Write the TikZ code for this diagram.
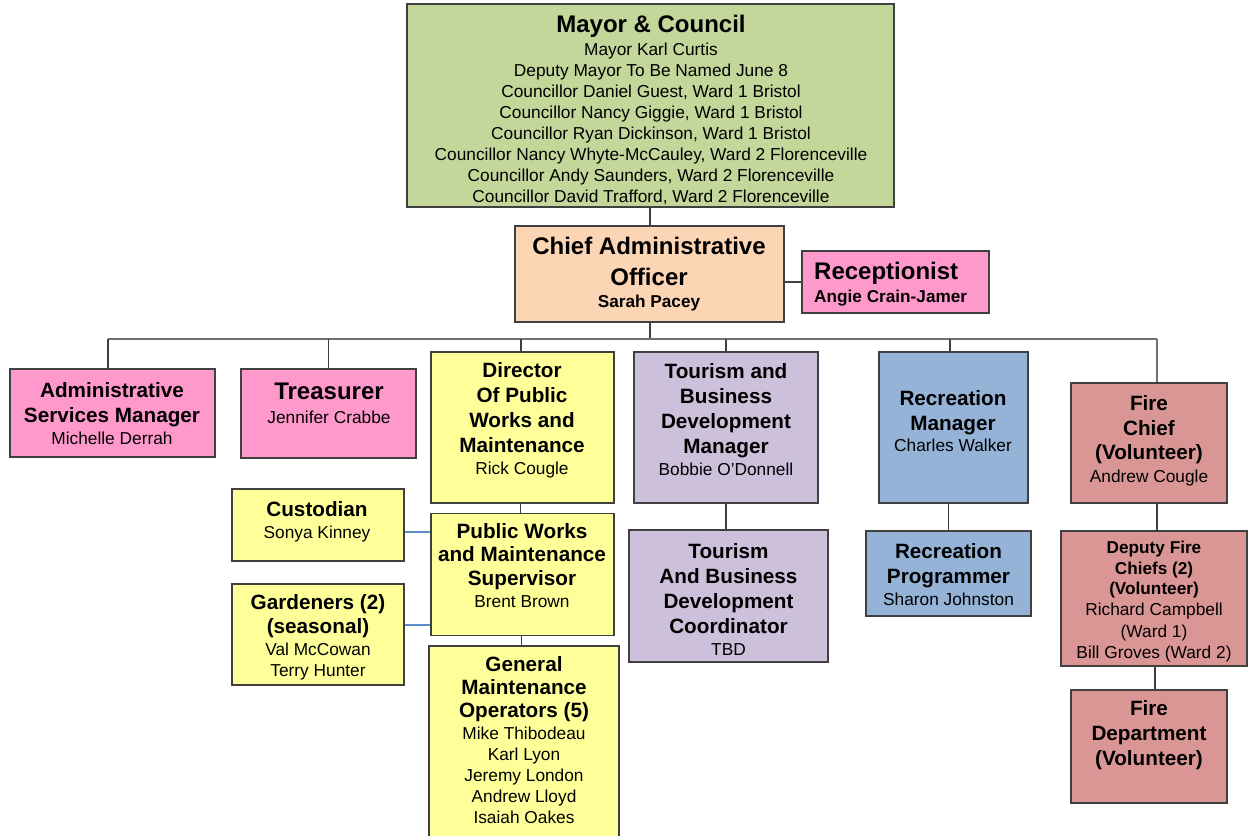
\documentclass[tikz,border=0pt]{standalone}
\usepackage{fontspec}
\setmainfont{Liberation Sans}
\definecolor{cMayor}{HTML}{C4D79B}
\definecolor{cCAO}{HTML}{FCD5B4}
\definecolor{cPink}{HTML}{FF99CC}
\definecolor{cYel}{HTML}{FFFF99}
\definecolor{cLav}{HTML}{CCC0DA}
\definecolor{cBlue}{HTML}{95B3D7}
\definecolor{cRed}{HTML}{DA9694}
\definecolor{cEdge}{HTML}{404040}
\definecolor{cLink}{HTML}{5B8DC9}
\newcommand\fbg{\fontsize{24}{29}\bfseries}
\newcommand\ftl{\fontsize{20.7}{25}\bfseries}
\newcommand\fsb{\fontsize{17.2}{21}\bfseries}
\newcommand\fnm{\fontsize{17.3}{21}\selectfont}
\tikzset{
  box/.style={draw=cEdge, line width=1.6pt, rectangle, inner sep=0pt},
  txt/.style={align=center, inner sep=0pt, font=\fnm, text=black},
  link/.style={draw=cEdge, line width=1.4pt},
  blink/.style={draw=cLink, line width=1.2pt}
}
\begin{document}
\begin{tikzpicture}[x=1pt,y=-1pt]
\useasboundingbox (0,0) rectangle (1249,835);
\clip (0,0) rectangle (1249,835);
\fill[white] (0,0) rectangle (1249,835);
% boxes
\node[box, fill=cMayor, minimum width=487pt, minimum height=203pt] (mayor) at (650.5,105.5) {};
\node[box, fill=cCAO, minimum width=269pt, minimum height=96pt] (cao) at (649.5,274) {};
\node[box, fill=cPink, minimum width=187pt, minimum height=62pt] (recep) at (895.5,282) {};
\node[box, fill=cPink, minimum width=205pt, minimum height=88pt] (asm) at (112.5,413) {};
\node[box, fill=cPink, minimum width=175pt, minimum height=89pt] (treas) at (328.5,413.5) {};
\node[box, fill=cYel, minimum width=183pt, minimum height=151pt] (dir) at (522.5,427.5) {};
\node[box, fill=cLav, minimum width=184pt, minimum height=151pt] (tbm) at (726,427.5) {};
\node[box, fill=cBlue, minimum width=149pt, minimum height=151pt] (rm) at (953.5,427.5) {};
\node[box, fill=cRed, minimum width=156pt, minimum height=120pt] (fc) at (1149,443) {};
\node[box, fill=cYel, minimum width=172pt, minimum height=72pt] (cust) at (318,525) {};
\node[box, fill=cYel, minimum width=183pt, minimum height=122pt] (sup) at (522.5,574.5) {};
\node[box, fill=cYel, minimum width=172pt, minimum height=101pt] (gard) at (318,634.5) {};
\node[box, fill=cYel, minimum width=190pt, minimum height=200pt] (gmo) at (524,746) {};
\node[box, fill=cLav, minimum width=199pt, minimum height=132pt] (tbc) at (728.5,596) {};
\node[box, fill=cBlue, minimum width=165pt, minimum height=85pt] (rp) at (948.5,573.5) {};
\node[box, fill=cRed, minimum width=186pt, minimum height=135pt] (dfc) at (1154,598.5) {};
\node[box, fill=cRed, minimum width=156pt, minimum height=113pt] (fd) at (1149,746.5) {};
% texts
\node[txt] (mayorT) at (651,110) {{\fbg Mayor \& Council}\\[2.5pt]
  Mayor Karl Curtis\\ Deputy Mayor To Be Named June 8\\
  Councillor Daniel Guest, Ward 1 Bristol\\ Councillor Nancy Giggie, Ward 1 Bristol\\
  Councillor Ryan Dickinson, Ward 1 Bristol\\ Councillor Nancy Whyte-McCauley, Ward 2 Florenceville\\
  Councillor Andy Saunders, Ward 2 Florenceville\\ Councillor David Trafford, Ward 2 Florenceville};
\node[txt] (caoT) at (649,274) {{\fbg Chief Administrative}\\[10pt]{\fbg Officer}\\[0.5pt]{\fsb Sarah Pacey}};
\node[txt, align=left, anchor=west] (recepT) at (814,284) {{\fbg Receptionist}\\[1.5pt]{\fsb Angie Crain-Jamer}};
\node[txt] (asmT) at (112,413.5) {{\ftl Administrative}\\[4pt]{\ftl Services Manager}\\[1pt]Michelle Derrah};
\node[txt] (treasT) at (329,403.5) {{\fbg Treasurer}\\[2.5pt]Jennifer Crabbe};
\node[txt] (dirT) at (522,420.5) {{\ftl Director}\\[4pt]{\ftl Of Public}\\[4pt]{\ftl Works and}\\[4pt]{\ftl Maintenance}\\[1pt]Rick Cougle};
\node[txt] (tbmT) at (726,420) {{\ftl Tourism and}\\[4pt]{\ftl Business}\\[4pt]{\ftl Development}\\[4pt]{\ftl Manager}\\[1pt]Bobbie O’Donnell};
\node[txt] (rmT) at (953,421) {{\ftl Recreation}\\[4pt]{\ftl Manager}\\[0.5pt]Charles Walker};
\node[txt] (fcT) at (1149,441) {{\ftl Fire}\\[3.5pt]{\ftl Chief}\\[3.5pt]{\ftl (Volunteer)}\\[1.5pt]Andrew Cougle};
\node[txt] (custT) at (317,522) {{\ftl Custodian}\\[1pt]Sonya Kinney};
\node[txt] (supT) at (522,565.5) {{\ftl Public Works}\\[2.5pt]{\ftl and Maintenance}\\[2.5pt]{\ftl Supervisor}\\[1pt]Brent Brown};
\node[txt] (gardT) at (318,637.5) {{\ftl Gardeners (2)}\\[3pt]{\ftl (seasonal)}\\[1pt]Val McCowan\\Terry Hunter};
\node[txt] (gmoT) at (524,740) {{\ftl General}\\[2pt]{\ftl Maintenance}\\[2pt]{\ftl Operators (5)}\\[1pt]Mike Thibodeau\\Karl Lyon\\Jeremy London\\Andrew Lloyd\\Isaiah Oakes};
\node[txt] (tbcT) at (728.5,599.5) {{\ftl Tourism}\\[4pt]{\ftl And Business}\\[4pt]{\ftl Development}\\[4pt]{\ftl Coordinator}\\[1pt]TBD};
\node[txt] (rpT) at (948.5,574.5) {{\ftl Recreation}\\[4pt]{\ftl Programmer}\\[1pt]Sharon Johnston};
\node[txt] (dfcT) at (1154,601.5) {{\fsb Deputy Fire}\\[-0.5pt]{\fsb Chiefs (2)}\\[-0.5pt]{\fsb (Volunteer)}\\Richard Campbell\\[0.5pt](Ward 1)\\Bill Groves (Ward 2)};
\node[txt] (fdT) at (1149,735.5) {{\ftl Fire}\\[4pt]{\ftl Department}\\[4pt]{\ftl (Volunteer)}};
% connectors
\coordinate (bus) at (650,339);
\coordinate (busL) at (108,339);
\coordinate (busR) at (1157,339);
\draw[link] (650,0 |- mayor.south) -- (650,0 |- cao.north);
\draw[link] (cao.east |- recep.west) -- (recep.west);
\draw[link] (650,0 |- cao.south) -- (bus);
\draw[link, draw=cEdge!75] (busL) -- (busR);
\draw[link] (busL) -- (busL |- asm.north);
\draw[link] (treas.north |- bus) -- (treas.north);
\draw[link] ([xshift=-1.5pt]dir.north |- bus) -- ([xshift=-1.5pt]dir.north);
\draw[link] (tbm.north |- bus) -- (tbm.north);
\draw[link] ([xshift=-3.5pt]rm.north |- bus) -- ([xshift=-3.5pt]rm.north);
\draw[link, draw=cEdge!75] (busR) -- (busR |- fc.north);
\draw[link] ([xshift=-2pt]dir.south) -- ([xshift=-2pt]dir.south |- sup.north);
\draw[link] ([xshift=-1pt]sup.south) -- ([xshift=-1pt]sup.south |- gmo.north);
\draw[blink] (cust.east |- 0,532) -- (sup.west |- 0,532);
\draw[blink] (gard.east |- 0,625) -- (sup.west |- 0,625);
\draw[link] (tbm.south) -- (tbm.south |- tbc.north);
\draw[link] ([xshift=-5pt]rm.south) -- ([xshift=-5pt]rm.south |- rp.north);
\draw[link] ([xshift=8pt]fc.south) -- ([xshift=8pt]fc.south |- dfc.north);
\draw[link] ([xshift=1pt]dfc.south) -- ([xshift=1pt]dfc.south |- fd.north);
\end{tikzpicture}
\end{document}
